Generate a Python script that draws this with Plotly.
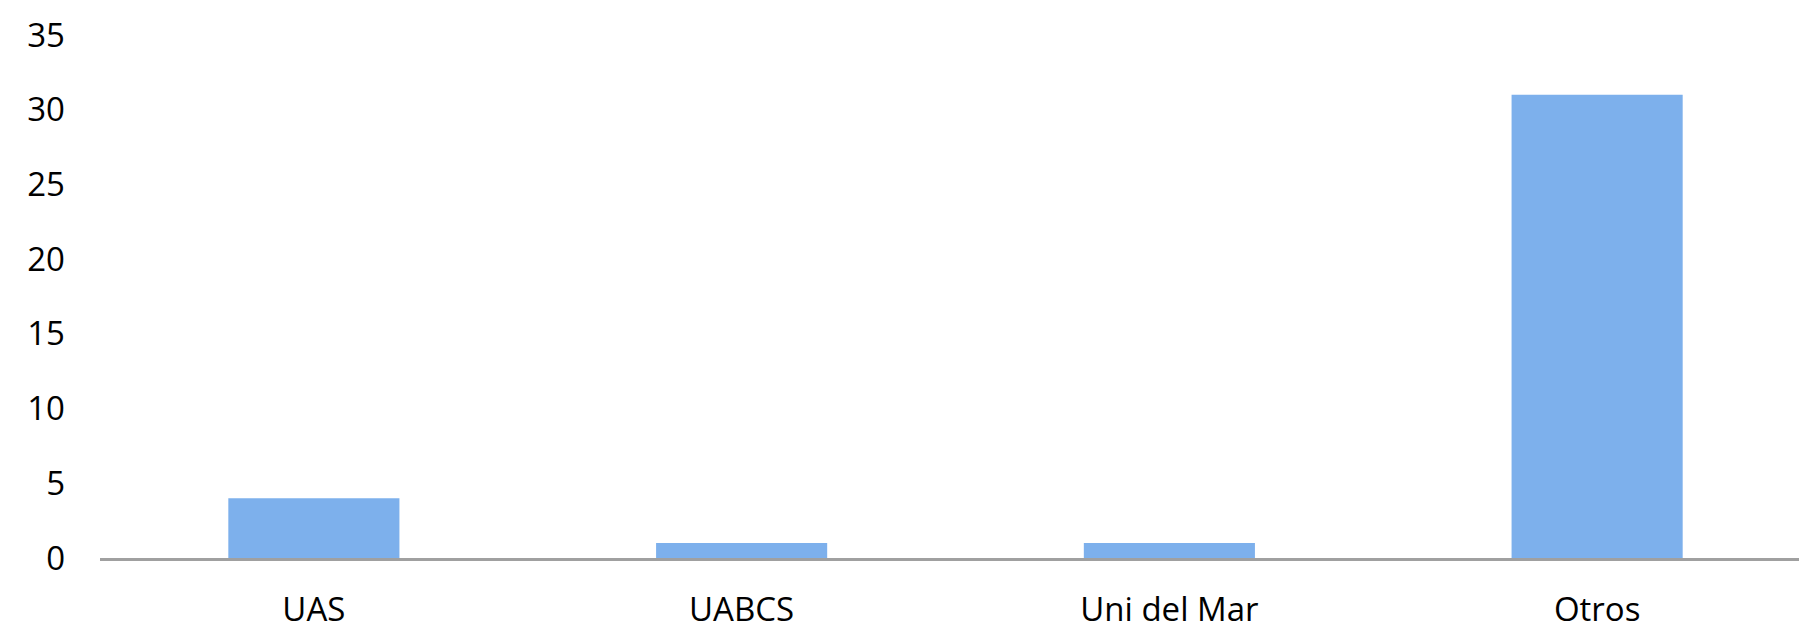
import plotly.graph_objects as go

categories = ["UAS", "UABCS", "Uni del Mar", "Otros"]
values = [4, 1, 1, 31]
y_ticks = [0, 5, 10, 15, 20, 25, 30, 35]

fig = go.Figure()
fig.add_trace(go.Bar(
    x=categories,
    y=values,
    marker=dict(color="#7DB0EC", line=dict(width=0)),
    width=0.4,
    hoverinfo="x+y",
))

fig.update_layout(
    width=1807, height=627,
    margin=dict(l=92, r=4, t=24, b=73),
    paper_bgcolor="white", plot_bgcolor="white",
    showlegend=False,
    font=dict(family="Open Sans", size=33, color="black"),
    xaxis=dict(
        type="category",
        showline=True, linecolor="#A0A0A0", linewidth=3,
        showgrid=False, zeroline=False,
        ticks="", ticklabelstandoff=20,
        tickfont=dict(size=33),
    ),
    yaxis=dict(
        range=[0, 35],
        tickvals=y_ticks,
        showgrid=False, zeroline=False, showline=False,
        ticks="", ticklabelstandoff=34,
        tickfont=dict(size=33),
    ),
)

fig.write_html("out.html")
